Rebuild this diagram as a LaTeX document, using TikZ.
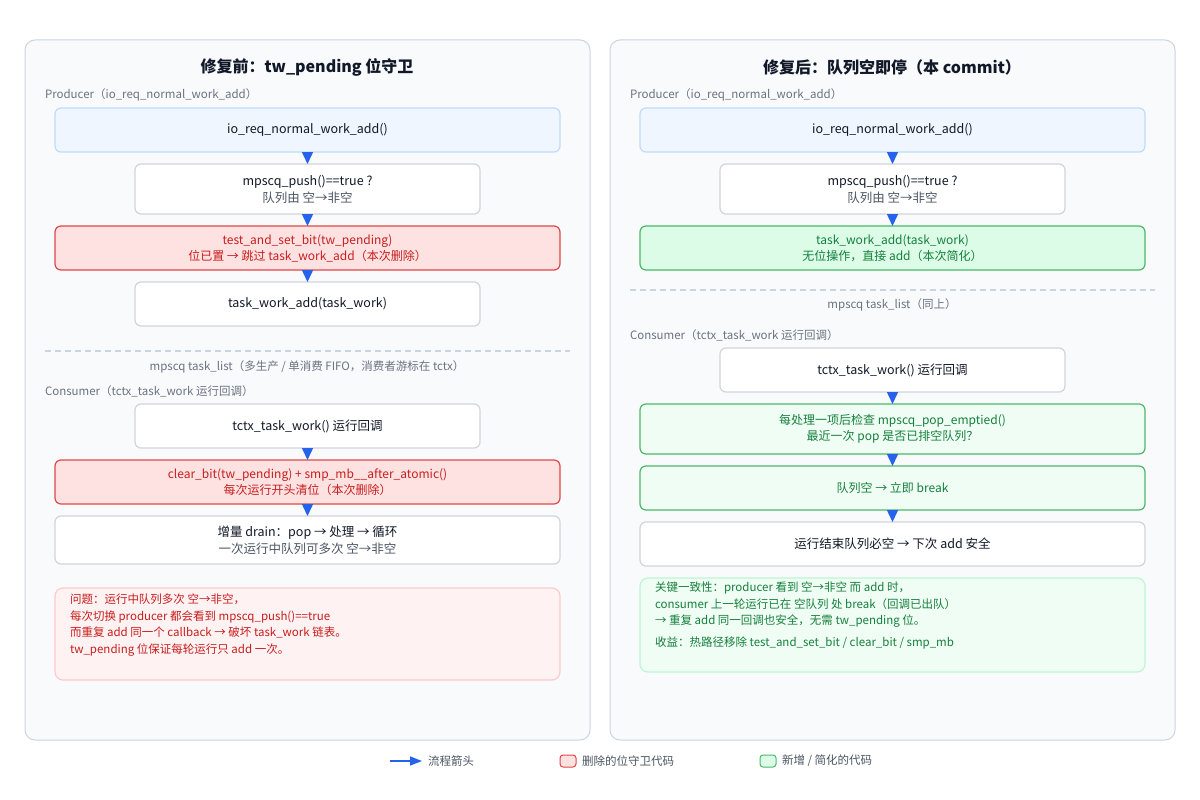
\documentclass[tikz,border=0pt]{standalone}
\usepackage{fontspec}
\setmainfont{Noto Sans CJK SC}
\usetikzlibrary{arrows.meta}
\definecolor{panelbg}{HTML}{F8FAFC}
\definecolor{panelbd}{HTML}{CBD5E1}
\definecolor{bluebg}{HTML}{EFF6FF}
\definecolor{bluebd}{HTML}{BFDBFE}
\definecolor{graybd}{HTML}{D1D5DB}
\definecolor{redbg}{HTML}{FEE2E2}
\definecolor{redbd}{HTML}{E04848}
\definecolor{redtx}{HTML}{C81E1E}
\definecolor{notered}{HTML}{FEF2F2}
\definecolor{noteredbd}{HTML}{FECACA}
\definecolor{greenbg}{HTML}{DCFCE7}
\definecolor{greenbg2}{HTML}{F0FDF4}
\definecolor{greenbd}{HTML}{4CB86A}
\definecolor{greentx}{HTML}{15803D}
\definecolor{notegreenbd}{HTML}{BBF7D0}
\definecolor{labtx}{HTML}{6B7280}
\definecolor{txt}{HTML}{111827}
\definecolor{subtx}{HTML}{4B5563}
\definecolor{arr}{HTML}{2563EB}
\begin{document}
\begin{tikzpicture}[x=1pt,y=-1pt,
  every node/.style={inner sep=0pt,outer sep=0pt},
  panel/.style={draw=panelbd,fill=panelbg,line width=1pt,rounded corners=10pt},
  box/.style={draw=graybd,fill=white,line width=1.2pt,rounded corners=6pt,align=center,font=\fontsize{12.5}{17}\selectfont,text=txt},
  blue/.style={box,draw=bluebd,fill=bluebg},
  red/.style={box,draw=redbd,fill=redbg,text=redtx,font=\fontsize{12}{16}\selectfont},
  green/.style={box,draw=greenbd,fill=greenbg,text=greentx,font=\fontsize{12}{16}\selectfont},
  green2/.style={green,fill=greenbg2},
  wide/.style={minimum width=505pt},
  narrow/.style={minimum width=345pt},
  title/.style={font=\fontsize{16}{20}\selectfont\bfseries,text=txt},
  lab/.style={font=\fontsize{11.5}{14}\selectfont,text=labtx,anchor=west},
  mid/.style={font=\fontsize{11.5}{14}\selectfont,text=labtx},
  flow/.style={draw=arr,line width=1.5pt,-{Triangle[length=12pt,width=11pt]}},
  sep/.style={draw=panelbd,line width=1.2pt,dash pattern=on 6pt off 4pt},
  note/.style={rounded corners=8pt,line width=1.2pt},
  notetx/.style={anchor=north west,align=left,font=\fontsize{11.5}{16.5}\selectfont}
]
\useasboundingbox (0,0) rectangle (1200,800);
\fill[white] (0,0) rectangle (1200,800);
% panels
\draw[panel] (25,40) rectangle (590,740);
\draw[panel] (610,40) rectangle (1175,740);
\node[title] (tl) at (307,67) {修复前：tw\_pending 位守卫};
\node[title] (tr) at (892,67) {修复后：队列空即停（本 commit）};
% left
\node[lab] (lpl) at (45,95) {Producer（io\_req\_normal\_work\_add）};
\node[blue,wide,minimum height=44pt] (l1) at (307.5,130) {io\_req\_normal\_work\_add()};
\node[box,narrow,minimum height=50pt] (l2) at (307.5,189) {mpscq\_push()==true ?\\\textcolor{subtx}{队列由 空→非空}};
\node[red,wide,minimum height=44pt] (l3) at (307.5,248) {test\_and\_set\_bit(tw\_pending)\\位已置 → 跳过 task\_work\_add（本次删除）};
\node[box,narrow,minimum height=44pt] (l4) at (307.5,304) {task\_work\_add(task\_work)};
\coordinate (ls1) at (45,351); \coordinate (ls2) at (570,351);
\draw[sep] (ls1) -- (ls2);
\node[mid] (lq) at (307,367) {mpscq task\_list（多生产 / 单消费 FIFO，消费者游标在 tctx）};
\node[lab] (lcl) at (45,391) {Consumer（tctx\_task\_work 运行回调）};
\node[box,narrow,minimum height=44pt] (l5) at (307.5,426) {tctx\_task\_work() 运行回调};
\node[red,wide,minimum height=44pt] (l6) at (307.5,482) {clear\_bit(tw\_pending) + smp\_mb\_\_after\_atomic()\\每次运行开头清位（本次删除）};
\node[box,wide,minimum height=48pt] (l7) at (307.5,540) {增量 drain：pop → 处理 → 循环\\\textcolor{subtx}{一次运行中队列可多次 空→非空}};
\draw[note,draw=noteredbd,fill=notered] (55,588) rectangle (560,680);
\node[notetx,text=redtx] (ln) at (70,594) {问题：运行中队列多次 空→非空，\\每次切换 producer 都会看到 mpscq\_push()==true\\而重复 add 同一个 callback → 破坏 task\_work 链表。\\tw\_pending 位保证每轮运行只 add 一次。};
\foreach \a/\b in {l1/l2,l2/l3,l3/l4,l5/l6,l6/l7} \draw[flow] (\a.south) -- (\b.north);
% right
\node[lab] (rpl) at (630,95) {Producer（io\_req\_normal\_work\_add）};
\node[blue,wide,minimum height=44pt] (r1) at (892.5,130) {io\_req\_normal\_work\_add()};
\node[box,narrow,minimum height=50pt] (r2) at (892.5,189) {mpscq\_push()==true ?\\\textcolor{subtx}{队列由 空→非空}};
\node[green,wide,minimum height=44pt] (r3) at (892.5,248) {task\_work\_add(task\_work)\\无位操作，直接 add（本次简化）};
\coordinate (rs1) at (630,290); \coordinate (rs2) at (1155,290);
\draw[sep] (rs1) -- (rs2);
\node[mid] (rq) at (892,305) {mpscq task\_list（同上）};
\node[lab] (rcl) at (630,335) {Consumer（tctx\_task\_work 运行回调）};
\node[box,narrow,minimum height=44pt] (r5) at (892.5,370) {tctx\_task\_work() 运行回调};
\node[green2,wide,minimum height=50pt] (r6) at (892.5,429) {每处理一项后检查 mpscq\_pop\_emptied()\\最近一次 pop 是否已排空队列？};
\node[green2,wide,minimum height=44pt] (r7) at (892.5,488) {队列空 → 立即 break};
\node[box,wide,minimum height=44pt] (r8) at (892.5,544) {运行结束队列必空 → 下次 add 安全};
\draw[note,draw=notegreenbd,fill=greenbg2] (640,578) rectangle (1145,672);
\node[notetx,text=greentx] (rn) at (655,582) {关键一致性：producer 看到 空→非空 而 add 时，\\consumer 上一轮运行已在 空队列 处 break（回调已出队）\\→ 重复 add 同一回调也安全，无需 tw\_pending 位。\\[5pt]收益：热路径移除 test\_and\_set\_bit / clear\_bit / smp\_mb};
\foreach \a/\b in {r1/r2,r2/r3,r5/r6,r6/r7,r7/r8} \draw[flow] (\a.south) -- (\b.north);
% legend
\coordinate (la1) at (390,761); \coordinate (la2) at (422,761);
\draw[flow,line width=1.5pt,-{Triangle[length=12pt,width=9pt]}] (la1) -- (la2);
\node[anchor=west,font=\fontsize{11.5}{14}\selectfont,text=subtx] (lg1) at (428,761) {流程箭头};
\draw[rounded corners=3pt,draw=redbd,fill=redbg,line width=1pt] (560,755) rectangle (576,767);
\node[anchor=west,font=\fontsize{11.5}{14}\selectfont,text=subtx] (lg2) at (582,761) {删除的位守卫代码};
\draw[rounded corners=3pt,draw=greenbd,fill=greenbg,line width=1pt] (760,755) rectangle (776,767);
\node[anchor=west,font=\fontsize{11.5}{14}\selectfont,text=subtx] (lg3) at (782,761) {新增 / 简化的代码};
\end{tikzpicture}
\end{document}
